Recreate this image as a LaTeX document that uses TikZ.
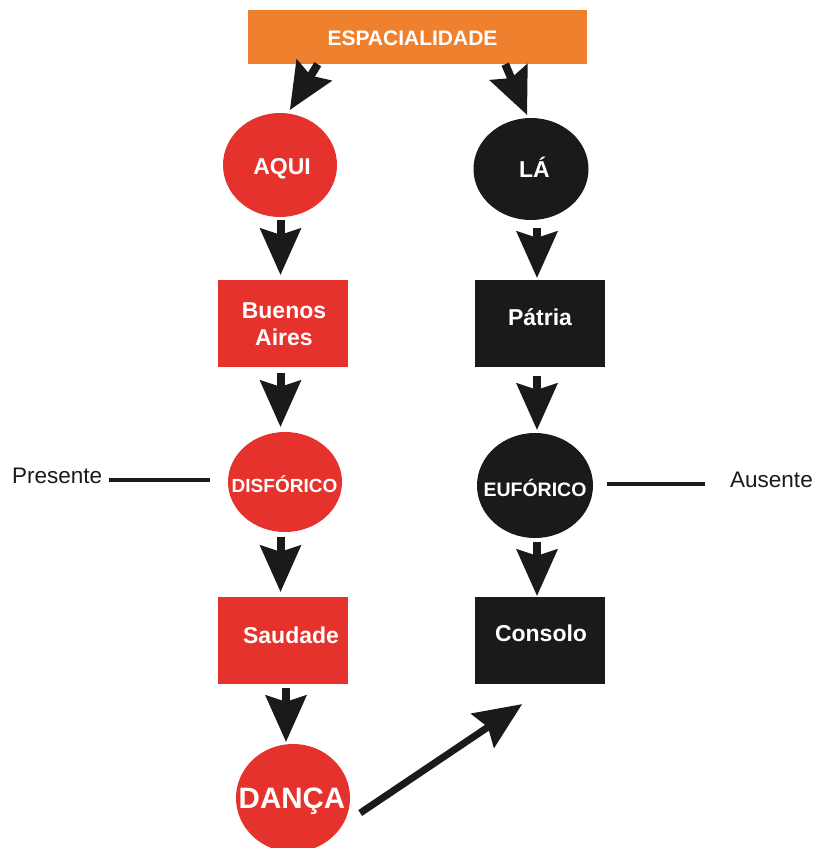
\documentclass[tikz,border=0pt]{standalone}
\usepackage{fontspec}
\setmainfont{Liberation Sans}
\usetikzlibrary{arrows.meta,shapes.geometric,calc}
\definecolor{redc}{RGB}{229,50,45}
\definecolor{blk}{RGB}{26,26,26}
\definecolor{orng}{RGB}{239,128,46}
\begin{document}
\begin{tikzpicture}[x=1pt,y=-1pt,
  oval/.style={ellipse, inner sep=0pt},
  boxnode/.style={rectangle, inner sep=0pt, minimum width=130pt, minimum height=87pt},
  lbl/.style={text=white, inner sep=0pt, font=\bfseries\fontsize{23}{27}\selectfont},
  side/.style={text=blk, inner sep=0pt, font=\fontsize{22.5}{27}\selectfont},
  bigarrow/.style={draw=blk, fill=blk, line width=8pt, -{Stealth[length=47pt,width=42pt,inset=7pt,line width=0pt]}},
  diagarrow/.style={draw=blk, fill=blk, line width=7pt, -{Stealth[length=48pt,width=42pt,inset=7pt,line width=0pt]}},
  rule/.style={draw=blk, line width=4.5pt}]
\fill[white] (0,0) rectangle (815,848);
\useasboundingbox (0,0) rectangle (815,848);

% top box
\node[boxnode, fill=orng, minimum width=339pt, minimum height=54pt] (esp) at (417.5,37) {};
\node[lbl, font=\bfseries\fontsize{21}{25}\selectfont, anchor=base] (espT) at (412.5,46) {ESPACIALIDADE};

% left column
\node[oval, fill=redc, minimum width=114pt, minimum height=104pt] (aqui) at (280,165) {};
\node[lbl, anchor=base] (aquiT) at (282,174) {AQUI};
\node[boxnode, fill=redc] (buenos) at (283,323.5) {};
\node[lbl, align=center] (buenosT) at (284,324.5) {Buenos\\Aires};
\node[oval, fill=redc, minimum width=114pt, minimum height=100pt] (disf) at (285,482) {};
\node[lbl, anchor=base, font=\bfseries\fontsize{19}{23}\selectfont] (disfT) at (284.5,492) {DISFÓRICO};
\node[boxnode, fill=redc] (saud) at (283,640.5) {};
\node[lbl, anchor=base] (saudT) at (291,643) {Saudade};
\node[oval, fill=redc, minimum width=114pt, minimum height=108pt] (danca) at (293,798) {};
\node[lbl, anchor=base, font=\bfseries\fontsize{29.5}{36}\selectfont] (dancaT) at (292,808) {DANÇA};

% right column
\node[oval, fill=blk, minimum width=115pt, minimum height=102pt] (la) at (531,169) {};
\node[lbl, anchor=base] (laT) at (534.5,177) {LÁ};
\node[boxnode, fill=blk] (pat) at (539.5,323.5) {};
\node[lbl, anchor=base] (patT) at (540,325) {Pátria};
\node[oval, fill=blk, minimum width=116pt, minimum height=105pt] (euf) at (535,485.5) {};
\node[lbl, anchor=base, font=\bfseries\fontsize{19.5}{23}\selectfont] (eufT) at (535,496) {EUFÓRICO};
\node[boxnode, fill=blk] (cons) at (539.5,640.5) {};
\node[lbl, anchor=base] (consT) at (541,641) {Consolo};

% side labels
\node[side, anchor=base west] (pres) at (12,483) {Presente};
\node[side, anchor=base west] (aus) at (730,487) {Ausente};

\coordinate (cL) at (280.5,0);
\coordinate (cR) at (537,0);

% arrows
\draw[bigarrow] ([xshift=70pt]esp.south west) -- ([xshift=10pt,yshift=3pt]aqui.north);
\draw[bigarrow] ([xshift=-82pt]esp.south east) -- ([xshift=-4pt,yshift=3pt]la.north);

\draw[bigarrow, shorten <=3pt, shorten >=5pt] (cL |- aqui.south) -- (cL |- buenos.north);
\draw[bigarrow, shorten <=6pt, shorten >=5pt] (cL |- buenos.south) -- (cL |- disf.north);
\draw[bigarrow, shorten <=5pt, shorten >=5pt] (cL |- disf.south) -- (cL |- saud.north);
\draw[bigarrow, shorten <=4pt, shorten >=2pt] ([xshift=3pt]saud.south) -- ([xshift=-7pt]danca.north);

\draw[bigarrow, shorten <=8pt, shorten >=2pt] (cR |- la.south) -- (cR |- pat.north);
\draw[bigarrow, shorten <=9pt, shorten >=3pt] (cR |- pat.south) -- (cR |- euf.north);
\draw[bigarrow, shorten <=4pt, shorten >=1pt] (cR |- euf.south) -- (cR |- cons.north);

\draw[diagarrow] ([xshift=10pt,yshift=-15pt]danca.east) -- ([xshift=-17.5pt,yshift=-20pt]cons.south);

% rules
\draw[rule] ([xshift=7pt,yshift=3pt]pres.base east) -- ([xshift=-18pt,yshift=2pt]disf.west);
\draw[rule] ([xshift=14pt,yshift=1.5pt]euf.east) -- ([xshift=-25pt,yshift=3pt]aus.base west);
\end{tikzpicture}
\end{document}
